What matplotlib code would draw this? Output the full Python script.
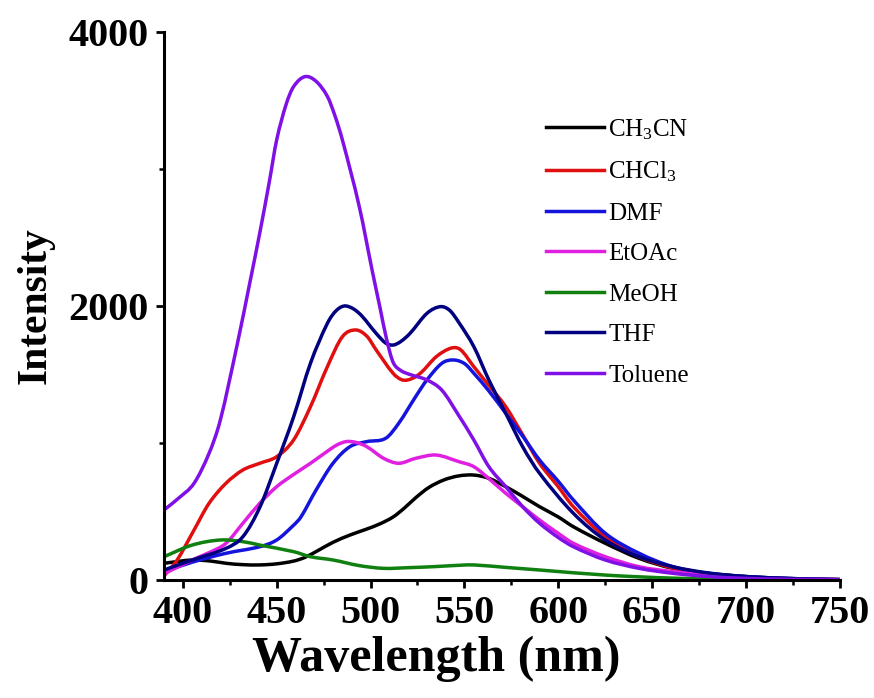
import matplotlib
matplotlib.use("Agg")
import matplotlib.pyplot as plt
from matplotlib.ticker import MultipleLocator
from matplotlib.path import Path
from matplotlib.patches import PathPatch
from matplotlib.lines import Line2D
import numpy as np

plt.rcParams['font.family'] = ['Liberation Serif', 'DejaVu Serif']
plt.rcParams['mathtext.fontset'] = 'custom'
plt.rcParams['mathtext.rm'] = 'Liberation Serif'
plt.rcParams['mathtext.default'] = 'regular'

# ---------------- data ----------------
labels = ["CH$_3$CN", "CHCl$_3$", "DMF", "EtOAc", "MeOH", "THF", "Toluene"]
colors = ["#000000", "#e01010", "#1414dc", "#e020e0", "#108010", "#000080", "#7f10e6"]

ch3cn_x = [390, 405, 415, 423, 432, 441, 450, 459, 465, 472, 480, 489, 498, 505, 512, 518, 524, 531, 539, 547, 555, 563, 572, 581, 590, 600, 608, 625, 643, 661, 679, 700, 725, 750]
ch3cn_y = [122, 146, 138, 122, 112, 110, 118, 138, 165, 215, 275, 328, 372, 410, 460, 525, 600, 675, 730, 760, 766, 742, 681, 610, 535, 460, 389, 268, 158, 85, 49, 25, 10, 3]

chcl3_x = [390, 397, 406, 414, 423, 432, 441, 450, 459, 468, 477, 485, 492, 498, 503, 512, 517, 522, 527, 535, 543, 548, 555, 563, 572, 581, 590, 600, 608, 625, 643, 661, 679, 700, 725, 750]
chcl3_y = [30, 146, 365, 560, 706, 803, 852, 900, 1022, 1265, 1557, 1776, 1825, 1780, 1679, 1509, 1460, 1470, 1515, 1630, 1693, 1680, 1557, 1420, 1265, 1060, 852, 680, 535, 316, 170, 88, 45, 20, 8, 2]

dmf_x = [390, 405, 423, 441, 450, 459, 463, 471, 480, 489, 498, 508, 515, 524, 530, 538, 544, 550, 555, 563, 572, 581, 590, 600, 608, 625, 643, 661, 679, 700, 725, 750]
dmf_y = [60, 130, 195, 243, 292, 400, 462, 657, 852, 973, 1010, 1034, 1144, 1338, 1460, 1582, 1606, 1580, 1509, 1380, 1217, 1050, 876, 720, 584, 341, 195, 97, 50, 25, 10, 3]

etoac_x = [390, 405, 414, 423, 432, 441, 450, 459, 468, 476, 482, 487, 492, 498, 507, 515, 524, 535, 547, 555, 563, 572, 581, 590, 600, 608, 625, 643, 661, 680, 700, 725, 750]
etoac_y = [45, 146, 200, 268, 414, 560, 681, 770, 852, 930, 985, 1010, 1005, 973, 888, 852, 888, 912, 864, 827, 740, 633, 535, 438, 340, 268, 170, 97, 61, 35, 18, 8, 3]

meoh_x = [390, 405, 420, 432, 441, 459, 468, 480, 494, 507, 520, 533, 548, 555, 572, 590, 625, 660, 700, 750]
meoh_y = [170, 255, 292, 280, 255, 207, 170, 146, 105, 85, 90, 97, 108, 110, 92, 73, 36, 14, 4, 1]

thf_x = [390, 405, 423, 432, 441, 450, 459, 468, 477, 482, 487, 494, 503, 508, 512, 516, 521, 530, 537, 542, 547, 555, 563, 572, 581, 590, 608, 625, 643, 661, 679, 700, 725, 750]
thf_y = [73, 146, 231, 316, 530, 851, 1190, 1582, 1873, 1970, 2000, 1946, 1800, 1730, 1715, 1740, 1800, 1946, 1995, 1970, 1880, 1703, 1460, 1217, 973, 779, 487, 292, 170, 97, 53, 25, 10, 3]

tol_x = [390, 398, 406, 414, 420, 429, 436, 441, 446, 450, 455, 459, 465, 471, 477, 481, 485, 494, 501, 505, 508.5, 512, 516, 521, 530, 538, 547, 555, 563, 572, 581, 590, 600, 608, 625, 643, 661, 680, 700, 725, 750]
tol_y = [511, 600, 706, 925, 1168, 1720, 2190, 2533, 2900, 3212, 3470, 3601, 3674, 3640, 3530, 3390, 3212, 2725, 2250, 1990, 1760, 1590, 1530, 1500, 1460, 1385, 1200, 1022, 827, 681, 535, 414, 310, 243, 146, 85, 49, 25, 12, 5, 2]

series_x = [ch3cn_x, chcl3_x, dmf_x, etoac_x, meoh_x, thf_x, tol_x]
series_y = [ch3cn_y, chcl3_y, dmf_y, etoac_y, meoh_y, thf_y, tol_y]

xticks = [400, 450, 500, 550, 600, 650, 700, 750]
yticks = [0, 2000, 4000]


def smooth_path(xs, ys):
    """Smooth Bezier path passing through the given data points."""
    p = np.column_stack([xs, ys]).astype(float)
    n = len(p)
    verts = [p[0]]
    codes = [Path.MOVETO]
    for i in range(n - 1):
        p0 = p[i - 1] if i > 0 else p[i]
        p1 = p[i]
        p2 = p[i + 1]
        p3 = p[i + 2] if i + 2 < n else p[i + 1]
        d = p2[0] - p1[0]
        t1 = (p2 - p0) / max(p2[0] - p0[0], 1e-9) * d / 3.0
        t2 = (p3 - p1) / max(p3[0] - p1[0], 1e-9) * d / 3.0
        verts += [p1 + t1, p2 - t2, p2]
        codes += [Path.CURVE4] * 3
    return Path(verts, codes)


# ---------------- figure ----------------
fig = plt.figure(figsize=(8.74, 6.98), dpi=100)
ax = fig.add_axes([164/874, 1-580/698, (840-164)/874, (580-32)/698])

handles = []
for xs, ys, lab, c in zip(series_x, series_y, labels, colors):
    patch = PathPatch(smooth_path(xs, ys), fill=False, edgecolor=c, lw=2.5,
                      capstyle='round', joinstyle='round')
    ax.add_patch(patch)
    handles.append(Line2D([], [], color=c, lw=2.5, label=lab))

ax.set_xlim(390, 750)
ax.set_ylim(0, 4000)
ax.set_xticks(xticks)
ax.set_yticks(yticks)
ax.xaxis.set_minor_locator(MultipleLocator(25))
ax.yaxis.set_minor_locator(MultipleLocator(1000))

for s in ['top', 'right']:
    ax.spines[s].set_visible(False)
for s in ['left', 'bottom']:
    ax.spines[s].set_linewidth(2.2)

ax.tick_params(which='major', direction='out', length=6, width=2, pad=5)
ax.tick_params(which='minor', direction='out', length=3.5, width=1.8)
for lab in ax.get_xticklabels() + ax.get_yticklabels():
    lab.set_fontsize(29)
    lab.set_fontweight('bold')

ax.set_xlabel("Wavelength (nm)", fontsize=36, fontweight='bold')
ax.xaxis.set_label_coords((436 - 164) / 676, -0.102)
ax.set_ylabel("Intensity", fontsize=30, fontweight='bold', labelpad=10)

leg = ax.legend(handles=handles, loc='upper left',
                bbox_to_anchor=(546/874, 1-117/698),
                bbox_transform=fig.transFigure, frameon=False,
                fontsize=18, handlelength=2.3, handletextpad=0.2,
                labelspacing=0.72, borderpad=0, borderaxespad=0)

fig.savefig("out.png", dpi=100)
